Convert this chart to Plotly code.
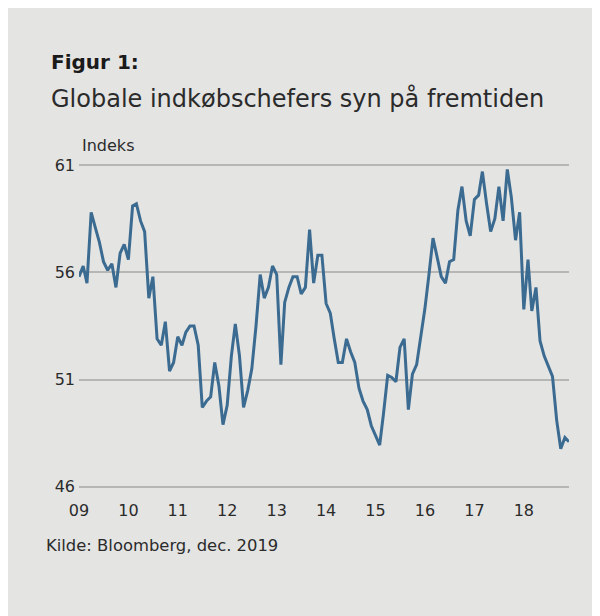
import pandas as pd
import plotly.graph_objects as go

# Monthly index, Jan 2009 - Dec 2018
months = pd.date_range("2009-01-01", periods=120, freq="MS")
indeks = [
    55.8, 56.3, 55.5, 58.8, 58.1, 57.4, 56.5, 56.1, 56.4, 55.3, 56.9, 57.3,
    56.6, 59.1, 59.2, 58.4, 57.9, 54.8, 55.8, 52.9, 52.6, 53.7, 51.4, 51.8,
    53.0, 52.6, 53.2, 53.5, 53.5, 52.6, 49.7, 50.0, 50.2, 51.8, 50.7, 48.9,
    49.8, 52.1, 53.6, 52.1, 49.7, 50.5, 51.5, 53.5, 55.9, 54.8, 55.3, 56.3,
    55.9, 51.7, 54.6, 55.3, 55.8, 55.8, 55.0, 55.3, 58.0, 55.5, 56.8, 56.8,
    54.55, 54.1, 52.95, 51.8, 51.8, 52.9, 52.3, 51.8, 50.6, 50.0, 49.6, 48.85,
    48.4, 47.95, 49.4, 51.2, 51.1, 50.9, 52.5, 52.9, 49.6, 51.26, 51.7, 53.0,
    54.3, 55.95, 57.6, 56.7, 55.8, 55.5, 56.5, 56.6, 58.9, 60.0, 58.4, 57.7,
    59.4, 59.6, 60.7, 59.2, 57.9, 58.5, 60.0, 58.4, 60.8, 59.5, 57.5, 58.8,
    54.27, 56.6, 54.2, 55.3, 52.8, 52.1, 51.65, 51.15, 49.1, 47.78, 48.3, 48.1,
]
y_ticks = [46, 51, 56, 61]

title = "<b>Figur 1:</b>"
subtitle = "Globale indkøbschefers syn på fremtiden"
y_label = "Indeks"
source = "Kilde: Bloomberg, dec. 2019"

W, H = 620, 616
L, R, T, B = 71, 59, 155, 135
BG = "#e4e4e3"
TXT = "#2b2b2b"
FONT = "DejaVu Sans"

# pixel -> paper helpers
pw, ph = W - L - R, H - T - B
def px(x):
    return (x - L) / pw
def py(y):
    return (H - B - y) / ph

fig = go.Figure()
fig.add_trace(go.Scatter(
    x=months, y=indeks, mode="lines",
    line=dict(color="#3b6b91", width=3),
    hoverinfo="skip", showlegend=False,
))

fig.update_layout(
    width=W, height=H,
    margin=dict(l=L, r=R, t=T, b=B),
    paper_bgcolor=BG,
    plot_bgcolor=BG,
    font=dict(family=FONT, size=16, color=TXT),
    xaxis=dict(
        range=[months[0], months[-1]],
        tickformat="%y", dtick="M12", tick0="2009-01-01",
        showgrid=False, zeroline=False, showline=False,
        ticks="", ticklabelstandoff=10,
        tickfont=dict(size=16, color=TXT),
    ),
    yaxis=dict(
        range=[45.9, 61.1], tickvals=y_ticks,
        showgrid=True, gridcolor="#b6b6b4", gridwidth=2,
        zeroline=False, showline=False,
        ticks="", ticklabelstandoff=3,
        tickfont=dict(size=16, color=TXT),
    ),
)

fig.add_annotation(text=title, xref="paper", yref="paper", x=px(41), y=py(54),
                   xanchor="left", yanchor="middle", showarrow=False,
                   font=dict(size=20, color="#1a1a1a"))
fig.add_annotation(text=subtitle, xref="paper", yref="paper", x=px(41), y=py(90),
                   xanchor="left", yanchor="middle", showarrow=False,
                   font=dict(size=24, color=TXT))
fig.add_annotation(text=y_label, xref="paper", yref="paper", x=px(72), y=py(137),
                   xanchor="left", yanchor="middle", showarrow=False,
                   font=dict(size=16, color=TXT))
fig.add_annotation(text=source, xref="paper", yref="paper", x=px(36), y=py(537),
                   xanchor="left", yanchor="middle", showarrow=False,
                   font=dict(size=16.4, color=TXT))

fig.write_html("out.html")
